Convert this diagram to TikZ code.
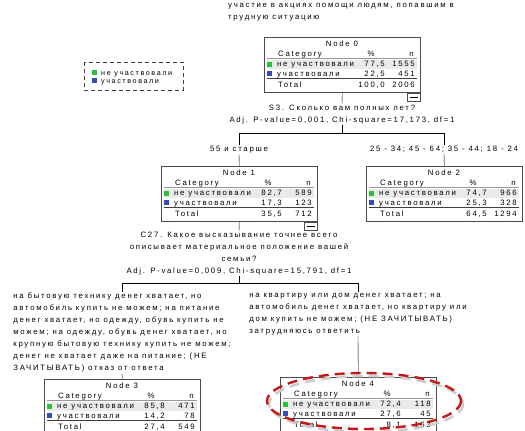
\documentclass[tikz,border=0pt]{standalone}
\usepackage{fontspec}
\newfontfamily\spss[LetterSpace=22]{Liberation Sans}
\definecolor{catgreen}{RGB}{40,195,60}
\definecolor{catblue}{RGB}{55,75,185}
\definecolor{rowgray}{RGB}{234,234,234}
\definecolor{ovalred}{RGB}{195,25,25}

% one box of the tree: name, top left corner, number, % and n of both rows, total
\newcommand{\treetable}[9]{%
  \node[tblbox] (#1) at (#2) {};
  \begin{scope}[shift={(#2)}]
    \fill[rowgray] (3,23) rectangle (153,31.5);
    \draw[black!40,line width=1.3pt] (3,21.5) -- (153,21.5);
    \draw[black!75,line width=0.9pt] (3,41.5) -- (153,41.5);
    \fill[catgreen] (3,24.5) rectangle (8,29.5);
    \fill[catblue] (3,33.5) rectangle (8,38.5);
    \node[txt,anchor=base] (#1-title) at (78,9.5) {Node #3};
    \node[txt,anchor=base west] (#1-cat) at (14,19.5) {Category};
    \node[txt,anchor=base] (#1-pct) at (107,19.5) {\%};
    \node[txt,anchor=base east] (#1-n) at (150,19.5) {n};
    \node[txt,anchor=base west] (#1-a) at (13,29.5) {не участвовали};
    \node[txt,anchor=base east] (#1-ap) at (121,29.5) {#4};
    \node[txt,anchor=base east] (#1-an) at (151,29.5) {#5};
    \node[txt,anchor=base west] (#1-b) at (13,39) {участвовали};
    \node[txt,anchor=base east] (#1-bp) at (121,39) {#6};
    \node[txt,anchor=base east] (#1-bn) at (151,39) {#7};
    \node[txt,anchor=base west] (#1-t) at (14,50) {Total};
    \node[txt,anchor=base east] (#1-tp) at (121,50) {#8};
    \node[txt,anchor=base east] (#1-tn) at (151,50) {#9};
  \end{scope}}
\newcommand{\minusbox}[1]{%
  \node[draw=black!70,line width=0.6pt,minimum width=13pt,minimum height=8.5pt,
    inner sep=0pt,anchor=north east] (#1-m) at (#1.south east) {};
  \draw ([xshift=3pt]#1-m.west) -- ([xshift=-3pt]#1-m.east);}

\begin{document}
\begin{tikzpicture}[x=1pt,y=-1pt,
  txt/.style={font=\spss\fontsize{7.8}{12}\selectfont,inner sep=0pt},
  tblbox/.style={draw=black!70,line width=0.6pt,minimum width=156pt,
    minimum height=55pt,inner sep=0pt,anchor=north west},
  splittxt/.style={txt,align=center,anchor=north,inner ysep=1pt},
  branchtxt/.style={txt,align=left,anchor=north,inner ysep=1pt}]
  \useasboundingbox (0,0) rectangle (525,431);
  \clip (0,0) rectangle (525,431);

  \node[txt,align=left,anchor=north west] (head) at (228,3)
    {участие в акциях помощи людям, попавшим в\\трудную ситуацию};

  % legende
  \draw[black!75,dashed,dash pattern=on 4pt off 3pt] (84,62) rectangle (183,90);
  \fill[catgreen] (92,70) rectangle (97,75);
  \fill[catblue] (92,78) rectangle (97,83);
  \node[txt,font=\spss\fontsize{7.2}{9}\selectfont,anchor=base west] (leg1) at (101,75) {не участвовали};
  \node[txt,font=\spss\fontsize{7.2}{9}\selectfont,anchor=base west] (leg2) at (101,83) {участвовали};

  \treetable{n0}{264,37}{0}{77,5}{1555}{22,5}{451}{100,0}{2006}
  \minusbox{n0}
  \treetable{n1}{161,166}{1}{82,7}{589}{17,3}{123}{35,5}{712}
  \minusbox{n1}
  \treetable{n2}{366,166}{2}{74,7}{966}{25,3}{328}{64,5}{1294}
  \treetable{n3}{44,379}{3}{85,8}{471}{14,2}{78}{27,4}{549}
  \treetable{n4}{280,377}{4}{72,4}{118}{27,6}{45}{8,1}{163}

  % S3
  \node[splittxt] (s0) at (342,103.5)
    {S3. Сколько вам полных лет?\\Adj. P-value=0,001, Chi-square=17,173, df=1};
  \coordinate (j0) at (342,133);
  \coordinate (j0l) at (239,133);
  \coordinate (j0r) at (444,133);
  \node[splittxt] (l1) at (239,145) {55 и старше};
  \node[splittxt] (l2) at (444,145) {25 - 34; 45 - 64; 35 - 44; 18 - 24};
  \draw (n0.south) -- (s0.north);
  \draw (s0.south) -- (j0);
  \draw (j0l) -- (j0r);
  \draw (j0l) -- (l1.north);
  \draw (j0r) -- (l2.north);
  \draw (l1.south) -- (n1.north);
  \draw (l2.south) -- (n2.north);

  % C27
  \node[splittxt] (s1) at (239,231)
    {C27. Какое высказывание точнее всего\\описывает материальное положение вашей\\семьи?\\
     Adj. P-value=0,009, Chi-square=15,791, df=1};
  \coordinate (j1) at (239,283);
  \coordinate (j1l) at (122,283);
  \coordinate (j1r) at (358,283);
  \node[branchtxt] (l3) at (122,292)
    {на бытовую технику денег хватает, но\\автомобиль купить не можем; на питание\\
     денег хватает, но одежду, обувь купить не\\можем; на одежду, обувь денег хватает, но\\
     крупную бытовую технику купить не можем;\\денег не хватает даже на питание; (НЕ\\
     ЗАЧИТЫВАТЬ) отказ от ответа};
  \node[branchtxt] (l4) at (358,292)
    {на квартиру или дом денег хватает; на\\автомобиль денег хватает, но квартиру или\\
     дом купить не можем; (НЕ ЗАЧИТЫВАТЬ)\\затрудняюсь ответить};
  \draw (n1.south) -- (s1.north);
  \draw (s1.south) -- (j1);
  \draw (j1l) -- (j1r);
  \draw (j1l) -- (l3.north);
  \draw (j1r) -- (l4.north);
  \draw (l3.south) -- (n3.north);
  \draw (l4.south) -- (n4.north);

  % ovale rouge
  \draw[black!20,line width=2.6pt,dash pattern=on 10pt off 6pt]
    (366,404) ellipse [x radius=97, y radius=28];
  \draw[ovalred,line width=2.4pt,dash pattern=on 10pt off 6pt]
    (364,401) ellipse [x radius=97, y radius=28];
\end{tikzpicture}
\end{document}
